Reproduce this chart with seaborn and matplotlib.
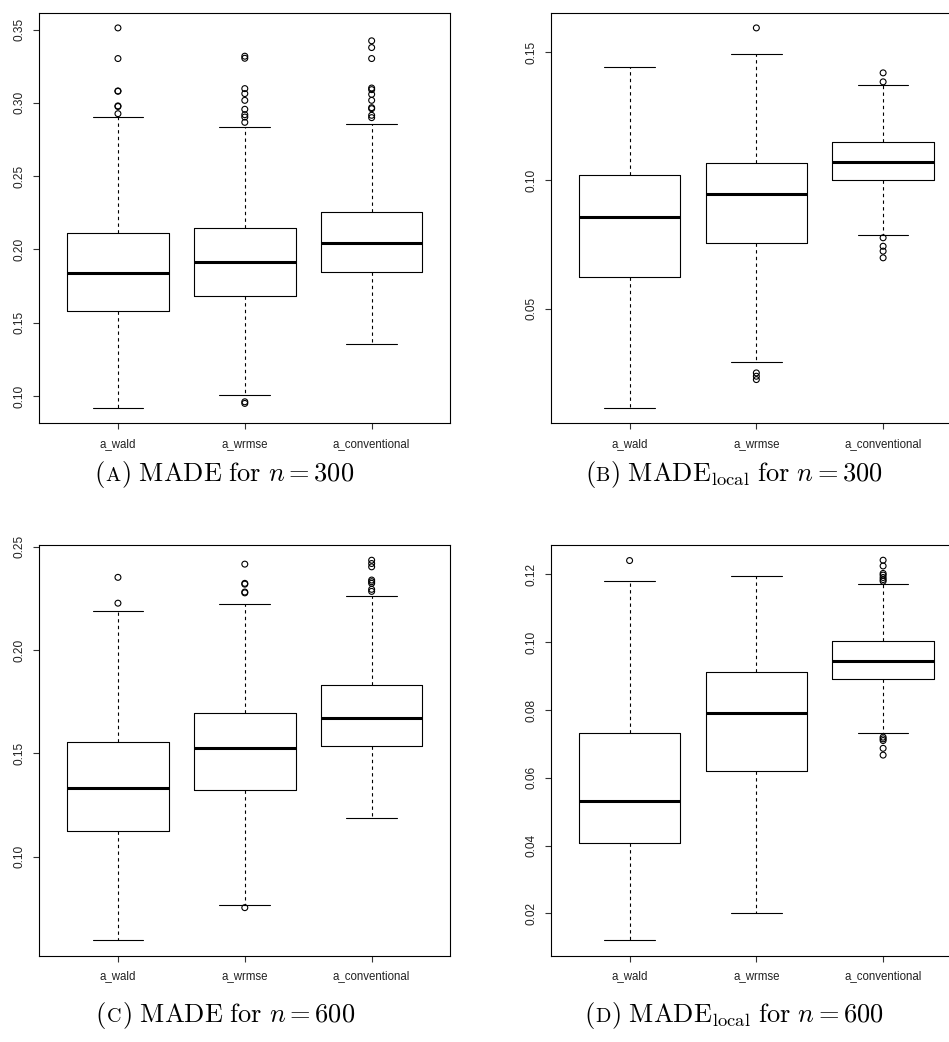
import numpy as np
import pandas as pd
import matplotlib
matplotlib.use("Agg")
import matplotlib.pyplot as plt
import seaborn as sns

# ---------------------------------------------------------------- data
categories = ["a_wald", "a_wrmse", "a_conventional"]

# (A) MADE, n = 300
made300_q1 = [0.1578, 0.1681, 0.1845]
made300_med = [0.1838, 0.1913, 0.2047]
made300_q3 = [0.2113, 0.2148, 0.2257]
made300_lo = [0.0918, 0.1007, 0.1357]
made300_hi = [0.2900, 0.2835, 0.2858]
made300_out_wald = [0.3511, 0.3302, 0.3081, 0.3079, 0.2979, 0.2975, 0.2926]
made300_out_wrmse = [0.3318, 0.3304, 0.3097, 0.3063, 0.3017, 0.2956, 0.2919,
                     0.2903, 0.2867, 0.0961, 0.0950]
made300_out_conv = [0.3423, 0.3377, 0.3302, 0.3101, 0.3090, 0.3058, 0.3017,
                    0.2967, 0.2960, 0.2915, 0.2899]
made300_ticks = [0.10, 0.15, 0.20, 0.25, 0.30, 0.35]

# (B) MADE_local, n = 300
local300_q1 = [0.0625, 0.0758, 0.1003]
local300_med = [0.0858, 0.0948, 0.1073]
local300_q3 = [0.1022, 0.1068, 0.1151]
local300_lo = [0.0114, 0.0294, 0.0787]
local300_hi = [0.1443, 0.1494, 0.1370]
local300_out_wald = []
local300_out_wrmse = [0.1594, 0.0251, 0.0238, 0.0225]
local300_out_conv = [0.1419, 0.1384, 0.0777, 0.0744, 0.0725, 0.0699]
local300_ticks = [0.05, 0.10, 0.15]

# (C) MADE, n = 600
made600_q1 = [0.1124, 0.1323, 0.1537]
made600_med = [0.1332, 0.1526, 0.1671]
made600_q3 = [0.1553, 0.1694, 0.1829]
made600_lo = [0.0594, 0.0766, 0.1185]
made600_hi = [0.2190, 0.2221, 0.2263]
made600_out_wald = [0.2352, 0.2227]
made600_out_wrmse = [0.2416, 0.2323, 0.2319, 0.2281, 0.2277, 0.0753]
made600_out_conv = [0.2435, 0.2419, 0.2403, 0.2339, 0.2331, 0.2323,
                    0.2294, 0.2284]
made600_ticks = [0.10, 0.15, 0.20, 0.25]

# (D) MADE_local, n = 600
local600_q1 = [0.0409, 0.0621, 0.0892]
local600_med = [0.0531, 0.0790, 0.0945]
local600_q3 = [0.0731, 0.0911, 0.1005]
local600_lo = [0.0120, 0.0201, 0.0731]
local600_hi = [0.1181, 0.1196, 0.1173]
local600_out_wald = [0.1241]
local600_out_wrmse = []
local600_out_conv = [0.1242, 0.1225, 0.1203, 0.1198, 0.1191, 0.1185, 0.1180,
                     0.0720, 0.0715, 0.0710, 0.0687, 0.0667]
local600_ticks = [0.02, 0.04, 0.06, 0.08, 0.10, 0.12]

# ---------------------------------------------------------------- style
sns.set_theme(style="ticks")
plt.rcParams["font.family"] = ["Liberation Sans", "DejaVu Sans"]
plt.rcParams["mathtext.fontset"] = "cm"

W, H = 949, 1042
fig = plt.figure(figsize=(W / 100, H / 100), dpi=100)
fig.patch.set_facecolor("white")

LW = 0.8


def axes_px(left, top, right, bottom):
    return fig.add_axes([left / W, 1 - bottom / H,
                         (right - left) / W, (bottom - top) / H])


def draw_panel(ax, q1, med, q3, lo, hi, outliers, ticks):
    positions = [1, 2, 3]
    stats = []
    for i, cat in enumerate(categories):
        stats.append(dict(label=cat, q1=q1[i], med=med[i], q3=q3[i],
                          whislo=lo[i], whishi=hi[i], fliers=[]))
    ax.bxp(stats, positions=positions, widths=0.8, capwidths=0.4,
           showfliers=False, manage_ticks=False,
           boxprops=dict(color="black", lw=LW),
           medianprops=dict(color="black", lw=2.2, solid_capstyle="butt"),
           whiskerprops=dict(color="black", lw=LW, linestyle=(0, (3, 3))),
           capprops=dict(color="black", lw=LW))

    # outlying observations as open circles
    rows = []
    for pos, vals in zip(positions, outliers):
        for v in vals:
            rows.append((pos, v))
    df = pd.DataFrame(rows, columns=["pos", "value"])
    if len(df):
        sns.scatterplot(data=df, x="pos", y="value", ax=ax, color="black",
                        s=18, linewidth=0.8, legend=False)
        ax.collections[-1].set_facecolor("none")
        ax.collections[-1].set_edgecolor("black")

    # R-style axis ranges: 4 % padding around the data
    allv = lo + hi + [v for vals in outliers for v in vals]
    vmin, vmax = min(allv), max(allv)
    pad = 0.04 * (vmax - vmin)
    ax.set_ylim(vmin - pad, vmax + pad)
    ax.set_xlim(0.38, 3.62)

    ax.set_xticks(positions)
    ax.set_xticklabels(categories, fontsize=8.3)
    ax.set_yticks(ticks)
    ax.set_yticklabels([f"{t:.2f}" for t in ticks], fontsize=8.6,
                       rotation=90, va="center")
    ax.tick_params(axis="both", length=4.3, width=LW, color="#333333",
                   labelcolor="#222222", direction="out")
    ax.tick_params(axis="x", pad=6.0)
    ax.tick_params(axis="y", pad=5.5)
    ax.set_xlabel("")
    ax.set_ylabel("")
    for sp in ax.spines.values():
        sp.set_visible(True)
        sp.set_linewidth(LW)
        sp.set_color("black")
    ax.grid(False)


ax_a = axes_px(39.3, 12.7, 450.3, 423.3)
ax_b = axes_px(551.0, 12.7, 961.7, 423.3)
ax_c = axes_px(39.3, 545.0, 450.3, 955.7)
ax_d = axes_px(551.0, 545.0, 961.7, 955.7)

draw_panel(ax_a, made300_q1, made300_med, made300_q3, made300_lo, made300_hi,
           [made300_out_wald, made300_out_wrmse, made300_out_conv],
           made300_ticks)
draw_panel(ax_b, local300_q1, local300_med, local300_q3, local300_lo,
           local300_hi,
           [local300_out_wald, local300_out_wrmse, local300_out_conv],
           local300_ticks)
draw_panel(ax_c, made600_q1, made600_med, made600_q3, made600_lo, made600_hi,
           [made600_out_wald, made600_out_wrmse, made600_out_conv],
           made600_ticks)
draw_panel(ax_d, local600_q1, local600_med, local600_q3, local600_lo,
           local600_hi,
           [local600_out_wald, local600_out_wrmse, local600_out_conv],
           local600_ticks)

# ---------------------------------------------------------------- captions
BIG = 19
SMALL = 14.5
renderer = fig.canvas.get_renderer()


def caption(cx, baseline, letter, body):
    pieces = [(r"$($", BIG), (r"$\mathrm{" + letter + "}$", SMALL),
              (body, BIG)]
    texts = [fig.text(0, 1 - baseline / H, s, fontsize=size,
                      va="baseline", ha="left", color="black")
             for s, size in pieces]
    widths = [t.get_window_extent(renderer).width for t in texts]
    x = cx - sum(widths) / 2
    for t, w in zip(texts, widths):
        t.set_x(x / W)
        x += w


caption(224, 481, "A", r"$\mathrm{)\ MADE\ for\ }n = 300$")
caption(734, 481, "B", r"$\mathrm{)\ MADE_{local}\ for\ }n = 300$")
caption(225, 1022, "C", r"$\mathrm{)\ MADE\ for\ }n = 600$")
caption(734, 1022, "D", r"$\mathrm{)\ MADE_{local}\ for\ }n = 600$")

fig.savefig("out.png", dpi=100, facecolor="white")
